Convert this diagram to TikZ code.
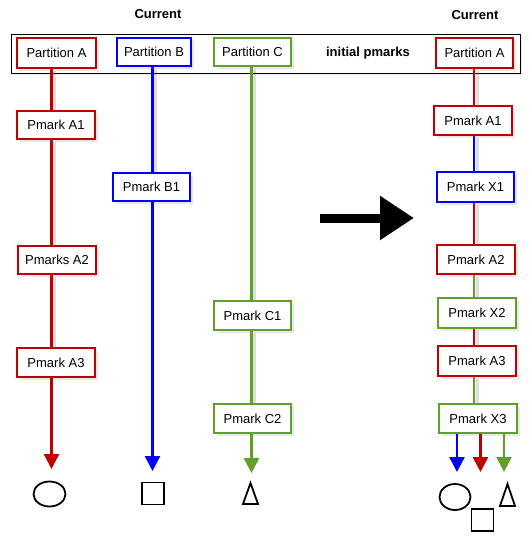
\documentclass[tikz,border=0pt]{standalone}
\usepackage{fontspec}
\setmainfont{Liberation Sans}
\usetikzlibrary{arrows.meta,shadows,shapes.geometric}
\definecolor{cred}{RGB}{192,0,0}
\definecolor{cblue}{RGB}{0,0,255}
\definecolor{cgreen}{RGB}{96,160,40}
\pgfdeclarelayer{bg}
\pgfsetlayers{bg,main}
\begin{document}
\begin{tikzpicture}[x=1pt,y=-1pt,
  font=\fontsize{13}{15}\selectfont,
  pbox/.style={draw=#1, line width=2pt, fill=white, inner sep=0pt, minimum height=29pt,
    drop shadow={opacity=0.18, shadow xshift=2.5pt, shadow yshift=-2.5pt}},
  conn/.style={draw=#1, line width=2.6pt,
    preaction={draw=black, opacity=0.13, line width=3pt, transform canvas={xshift=3pt,yshift=-2pt}}},
  arr/.style={draw=#1, line width=2.6pt, -{Triangle[width=15pt,length=15pt,fill=#1]}},
  sym/.style={draw=black, line width=1.8pt, inner sep=0pt},
  lbl/.style={font=\fontsize{13}{15}\selectfont\bfseries}
]
\useasboundingbox (0,0) rectangle (532,539);
% header
\node[lbl] (cur1) at (158,14) {Current};
\node[lbl] (cur2) at (475,15) {Current};
\begin{pgfonlayer}{bg}
\node[draw=black, line width=1pt, fill=white, minimum width=509pt, minimum height=39pt, inner sep=0pt,
  drop shadow={opacity=0.15, shadow xshift=2pt, shadow yshift=-2pt}] (frame) at (265.5,53.5) {};
\end{pgfonlayer}
\node[lbl] (init) at (368,53) {initial pmarks};
% column coordinates
\coordinate (colA) at (51.5,0);
\coordinate (colB) at (152.5,0);
\coordinate (colC) at (251.5,0);
\coordinate (colR) at (474,0);
\coordinate (rb) at (457,0);
\coordinate (rr) at (480.5,0);
\coordinate (rg) at (504,0);
% left boxes
\node[pbox=cred, minimum width=79pt, minimum height=30pt] (PA) at (56.5,53) {Partition A};
\node[pbox=cblue, minimum width=74pt, minimum height=28pt] (PB) at (154,52) {Partition B};
\node[pbox=cgreen, minimum width=77pt, minimum height=28pt] (PC) at (252.5,52) {Partition C};
\node[pbox=cred, minimum width=78pt, minimum height=28pt] (A1) at (56,125) {Pmark A1};
\node[pbox=cred, minimum width=78pt, minimum height=28pt] (A2) at (57,260) {Pmarks A2};
\node[pbox=cred, minimum width=78pt] (A3) at (56,362.5) {Pmark A3};
\node[pbox=cblue, minimum width=77pt, minimum height=28pt] (B1) at (151.5,187) {Pmark B1};
\node[pbox=cgreen, minimum width=77pt] (C1) at (252.5,315.5) {Pmark C1};
\node[pbox=cgreen, minimum width=77pt] (C2) at (252.5,418.5) {Pmark C2};
% right boxes
\node[pbox=cred, minimum width=77pt, minimum height=30pt] (RPA) at (474.5,53) {Partition A};
\node[pbox=cred, minimum width=78pt] (RA1) at (473,120.5) {Pmark A1};
\node[pbox=cblue, minimum width=77pt, minimum height=30pt] (X1) at (475.5,187) {Pmark X1};
\node[pbox=cred, minimum width=78pt] (RA2) at (476,259.5) {Pmark A2};
\node[pbox=cgreen, minimum width=78pt, minimum height=30pt] (X2) at (477,313) {Pmark X2};
\node[pbox=cred, minimum width=78pt, minimum height=30pt] (RA3) at (477,361) {Pmark A3};
\node[pbox=cgreen, minimum width=78pt] (X3) at (478,418.5) {Pmark X3};
% end symbols
\node[sym, ellipse, minimum width=32pt, minimum height=25pt] (eL) at (49.5,494) {};
\node[sym, minimum width=22pt, minimum height=22pt] (sL) at (153,493.5) {};
\node[sym, minimum width=31pt, minimum height=26pt, ellipse] (eR) at (455,497) {};
\node[sym, minimum width=22pt, minimum height=22pt] (sR) at (482.5,520) {};
\coordinate (tL) at (250.5,493.5);
\coordinate (tR) at (507.5,495);
\draw[line width=1.8pt, line join=miter] ([shift={(-7.5,10.5)}]tL) -- ([shift={(0,-10.5)}]tL) -- ([shift={(7.5,10.5)}]tL) -- cycle;
\draw[line width=1.8pt, line join=miter] ([shift={(-7.5,11)}]tR) -- ([shift={(0,-11)}]tR) -- ([shift={(7.5,11)}]tR) -- cycle;
% connectors
\begin{pgfonlayer}{bg}
\draw[conn=cred] (PA.south -| colA) -- (A1.north -| colA);
\draw[conn=cred] (A1.south -| colA) -- (A2.north -| colA);
\draw[conn=cred] (A2.south -| colA) -- (A3.north -| colA);
\draw[conn=cblue] (PB.south -| colB) -- (B1.north -| colB);
\draw[conn=cgreen] (PC.south -| colC) -- (C1.north -| colC);
\draw[conn=cgreen] (C1.south -| colC) -- (C2.north -| colC);
\draw[conn=cred] (RPA.south -| colR) -- (RA1.north -| colR);
\draw[conn=cblue] (RA1.south -| colR) -- (X1.north -| colR);
\draw[conn=cred] (X1.south -| colR) -- (RA2.north -| colR);
\draw[conn=cgreen] (RA2.south -| colR) -- (X2.north -| colR);
\draw[conn=cred] (X2.south -| colR) -- (RA3.north -| colR);
\draw[conn=cgreen] (RA3.south -| colR) -- (X3.north -| colR);
\end{pgfonlayer}
\coordinate (eAend) at (51.5,469);
\draw[arr=cred] (A3.south -| colA) -- (eAend);
\coordinate (eBend) at (152.5,471);
\draw[arr=cblue] (B1.south -| colB) -- (eBend);
\coordinate (eCend) at (251.5,473);
\draw[arr=cgreen] (C2.south -| colC) -- (eCend);
\coordinate (rbend) at (457,472);
\coordinate (rrend) at (480.5,472);
\coordinate (rgend) at (504,472);
\draw[arr=cblue] (X3.south -| rb) -- (rbend);
\draw[arr=cred] (X3.south -| rr) -- (rrend);
\draw[arr=cgreen] (X3.south -| rg) -- (rgend);
% big arrow
\coordinate (bigS) at (320,218);
\coordinate (bigE) at (414,218);
\draw[line width=9pt, -{Triangle[width=42pt,length=34pt]}] (bigS) -- (bigE);
\end{tikzpicture}
\end{document}
